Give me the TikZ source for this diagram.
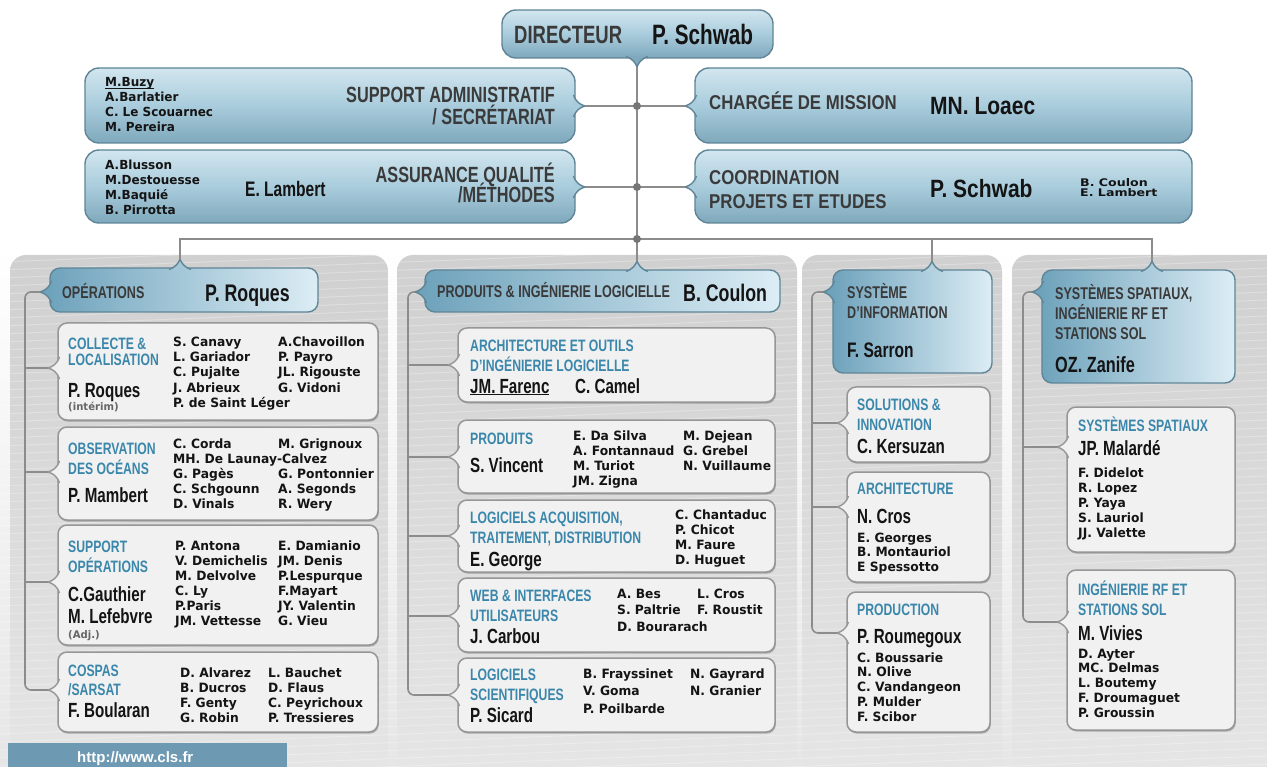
\documentclass[tikz,border=0pt]{standalone}
\usepackage{fontspec}
\newfontfamily\cf{Liberation Sans}[FakeStretch=0.74]
\newfontfamily\cfb{Liberation Sans}[FakeStretch=0.84]
\newfontfamily\nf{DejaVu Sans}[FakeStretch=0.96]
\newfontfamily\nfw{DejaVu Sans}[FakeStretch=1.2]
\newfontfamily\uf{Liberation Sans}
\usetikzlibrary{fit,shadows}
\newcommand\fs[1]{\fontsize{#1}{#1}\selectfont}
\newcommand\ul[1]{\setbox0\hbox{#1}\rlap{\rule[-1.6pt]{\wd0}{0.9pt}}\box0}
\definecolor{linegray}{HTML}{8C8C8C}
\definecolor{dotgray}{HTML}{767676}
\definecolor{boxfill}{HTML}{F1F1F1}
\definecolor{boxborder}{HTML}{969696}
\definecolor{blueborder}{HTML}{5F8596}
\definecolor{tbTop}{HTML}{D2E6EF}
\definecolor{tbMid}{HTML}{A9CCDC}
\definecolor{tbBot}{HTML}{7FA8BC}
\definecolor{hdL}{HTML}{6FA3BC}
\definecolor{hdR}{HTML}{DCEDF5}
\definecolor{hdgray}{HTML}{3A3A3A}
\definecolor{bluetext}{HTML}{3B87AB}
\definecolor{nametext}{HTML}{141414}
\definecolor{urlbg}{HTML}{6E99B2}
\definecolor{panelTop}{HTML}{D0D0D0}
\definecolor{panelBot}{HTML}{E6E6E6}
\tikzset{
  conn/.style={draw=linegray, line width=1.6pt},
  jdot/.style={circle, fill=dotgray, inner sep=0pt, minimum size=8pt},
  gbox/.style={draw=boxborder, fill=boxfill, line width=1.5pt, rounded corners=9pt, inner sep=0pt,
    drop shadow={shadow xshift=0.8pt, shadow yshift=-1.6pt, fill=black, opacity=0.25}},
  tbox/.style={draw=blueborder, line width=1.4pt, rounded corners=14pt, top color=tbTop, bottom color=tbBot, middle color=tbMid, inner sep=0pt},
  hbox/.style={draw=blueborder, line width=1.4pt, rounded corners=10pt, left color=hdL, right color=hdR, inner sep=0pt},
  hd/.style={font=\cf\bfseries\fs{17}, text=hdgray, inner sep=0pt, anchor=base west},
  bh/.style={font=\cf\bfseries\fs{16.5}, text=bluetext, inner sep=0pt, anchor=base west},
  pn/.style={font=\cf\bfseries\fs{20.5}, text=nametext, inner sep=0pt, anchor=base west},
  hn/.style={font=\cf\bfseries\fs{24}, text=nametext, inner sep=0pt, anchor=base west},
  nm/.style={font=\nf\bfseries\fs{12.8}, text=nametext, inner sep=0pt, anchor=base west},
  sm/.style={font=\nf\bfseries\fs{10.5}, text=black!60, inner sep=0pt, anchor=base west},
}
% pointers: #1 tip coordinate, #2 edge coordinate, #3 position along the edge, #4 fill, #5 draw
\newcommand\ptrL[5]{%
  \filldraw[fill=#4, draw=#5, line width=1.4pt] (#2+1.5,#3-11) .. controls (#2-1,#3-4) and (#2-5,#3-1.5) .. (#2-10,#3) .. controls (#2-5,#3+1.5) and (#2-1,#3+4) .. (#2+1.5,#3+11);
  \coordinate (#1) at (#2-10,#3);}
\newcommand\ptrR[5]{%
  \filldraw[fill=#4, draw=#5, line width=1.4pt] (#2-1.5,#3-11) .. controls (#2+1,#3-4) and (#2+5,#3-1.5) .. (#2+10,#3) .. controls (#2+5,#3+1.5) and (#2+1,#3+4) .. (#2-1.5,#3+11);
  \coordinate (#1) at (#2+10,#3);}
\newcommand\ptrT[5]{%
  \filldraw[fill=#4, draw=#5, line width=1.4pt] (#3-11,#2+1.5) .. controls (#3-4,#2-1) and (#3-1.5,#2-5) .. (#3,#2-9) .. controls (#3+1.5,#2-5) and (#3+4,#2-1) .. (#3+11,#2+1.5);
  \coordinate (#1) at (#3,#2-9);}
\newcommand\ptrB[5]{%
  \filldraw[fill=#4, draw=#5, line width=1.4pt] (#3-11,#2-1.5) .. controls (#3-4,#2+1) and (#3-1.5,#2+5) .. (#3,#2+9) .. controls (#3+1.5,#2+5) and (#3+4,#2+1) .. (#3+11,#2-1.5);
  \coordinate (#1) at (#3,#2+9);}
% gray box with left pointer: name, x1, y1, x2, y2, pointer y
\newcommand\gb[6]{%
  \node[gbox, fit={(#2,#3) (#4,#5)}] (#1) {};
  \ptrL{#1p}{#2}{#6}{boxfill}{boxborder}}
% stacked lines: prefix, x, first baseline, spacing, style, list
\newcommand\stk[6]{\foreach \tx [count=\i] in {#6}{\node[#5] (#1\i) at (#2,{#3+#4*(\i-1)}) {\tx};}}
\begin{document}
\begin{tikzpicture}[x=1pt,y=-1pt]
\useasboundingbox (0,0) rectangle (1267,767);
\fill[white] (0,0) rectangle (1267,767);
\shade[top color=white, bottom color=panelBot] (0,245) rectangle (1267,767);
% column panels
\shade[top color=panelTop, bottom color=panelBot, rounded corners=16pt] (10,790) -- (10,255) -- (388,255) -- (388,790) -- cycle;
\shade[top color=panelTop, bottom color=panelBot, rounded corners=16pt] (397,790) -- (397,255) -- (797,255) -- (797,790) -- cycle;
\shade[top color=panelTop, bottom color=panelBot, rounded corners=16pt] (802,790) -- (802,255) -- (1002,255) -- (1002,790) -- cycle;
\shade[top color=panelTop, bottom color=panelBot, rounded corners=16pt] (1012,790) -- (1012,255) -- (1300,255) -- (1300,790) -- cycle;
% faint streaks
\begin{scope}
\clip (0,250) rectangle (1267,767);
\foreach \s in {0,...,75} \draw[white, opacity=0.28, line width=1pt] (0,{262+8*\s}) -- (1267,{212+8*\s});
\end{scope}

% ---------- top ----------
\node[tbox, fit={(502,10) (773,58)}] (dir) {};
\ptrB{dirp}{58}{637}{tbBot}{blueborder}
\node[hd, font=\cf\bfseries\fs{25}] (dirT) at (514,44) {DIRECTEUR};
\node[hn, font=\cf\bfseries\fs{28}] (dirN) at (652,45) {P. Schwab};

\node[tbox, fit={(85,68) (575,143)}] (sup) {};
\ptrR{supp}{575}{106}{tbMid}{blueborder}
\node[tbox, fit={(85,150) (575,223)}] (aq) {};
\ptrR{aqp}{575}{187}{tbMid}{blueborder}
\node[tbox, fit={(695,68) (1192,143)}] (cm) {};
\ptrL{cmp}{695}{106}{tbMid}{blueborder}
\node[tbox, fit={(695,150) (1192,223)}] (cp) {};
\ptrL{cpp}{695}{187}{tbMid}{blueborder}

\stk{supL}{105}{87}{15}{nm, font=\nf\bfseries\fs{12.5}}{\ul{M.Buzy}, A.Barlatier, C. Le Scouarnec, M. Pereira}
\node[hd, font=\cf\bfseries\fs{22}, anchor=base east] (supT1) at (555,103) {SUPPORT ADMINISTRATIF};
\node[hd, font=\cf\bfseries\fs{22}, anchor=base east] (supT2) at (555,125) {/ SECRÉTARIAT};
\stk{aqL}{105}{170}{15}{nm, font=\nf\bfseries\fs{12.5}}{A.Blusson, M.Destouesse, M.Baquié, B. Pirrotta}
\node[pn, font=\cf\bfseries\fs{21}] (aqN) at (245,197) {E. Lambert};
\node[hd, font=\cf\bfseries\fs{22}, anchor=base east] (aqT1) at (555,183) {ASSURANCE QUALITÉ};
\node[hd, font=\cf\bfseries\fs{22}, anchor=base east] (aqT2) at (555,203) {/MÉTHODES};
\node[hd, font=\cfb\bfseries\fs{20}] (cmT) at (709,110) {CHARGÉE DE MISSION};
\node[hn, font=\cfb\bfseries\fs{25}] (cmN) at (930,115) {MN. Loaec};
\node[hd, font=\cfb\bfseries\fs{20}] (cpT1) at (709,185) {COORDINATION};
\node[hd, font=\cfb\bfseries\fs{20}] (cpT2) at (709,209) {PROJETS ET ETUDES};
\node[hn, font=\cfb\bfseries\fs{25}] (cpN) at (930,198) {P. Schwab};
\stk{cpL}{1080}{187}{9.5}{nm, font=\nfw\bfseries\fs{10.5}}{B. Coulon, E. Lambert}

% ---------- column 1 : operations ----------
\node[hbox, fit={(50,268) (318,312)}] (ops) {};
\ptrL{opsp}{50}{292}{hdL}{blueborder}
\ptrT{opst}{268}{180}{hdL!52!hdR}{blueborder}
\node[hd] (opsT) at (62,299) {OPÉRATIONS};
\node[hn] (opsN) at (205,302) {P. Roques};

\gb{coll}{58}{323}{378}{420}{368}
\stk{collH}{68}{350}{16}{bh}{COLLECTE \&, LOCALISATION}
\node[pn] (collN) at (68,397) {P. Roques};
\node[sm] (collI) at (68,410) {(intérim)};
\stk{collA}{173}{347}{15}{nm}{S. Canavy, L. Gariador, C. Pujalte, J. Abrieux, P. de Saint Léger}
\stk{collB}{278}{347}{15}{nm}{A.Chavoillon, P. Payro, JL. Rigouste, G. Vidoni}

\gb{obs}{58}{427}{378}{520}{472}
\stk{obsH}{68}{454}{20}{bh}{OBSERVATION, DES OCÉANS}
\node[pn] (obsN) at (68,502) {P. Mambert};
\stk{obsA}{173}{448}{15}{nm}{C. Corda, MH. De Launay-Calvez, G. Pagès, C. Schgounn, D. Vinals}
\node[nm] (obsB) at (278,448) {M. Grignoux};
\stk{obsC}{278}{478}{15}{nm}{G. Pontonnier, A. Segonds, R. Wery}

\gb{supb}{58}{525}{378}{645}{582}
\stk{supbH}{68}{552}{20}{bh}{SUPPORT, OPÉRATIONS}
\node[pn] (supbN1) at (68,601) {C.Gauthier};
\node[pn] (supbN2) at (68,623) {M. Lefebvre};
\node[sm] (supbAdj) at (68,638) {(Adj.)};
\stk{supbA}{175}{550}{15}{nm}{P. Antona, V. Demichelis, M. Delvolve, C. Ly, P.Paris, JM. Vettesse}
\stk{supbB}{278}{550}{15}{nm}{E. Damianio, JM. Denis, P.Lespurque, F.Mayart, JY. Valentin, G. Vieu}

\gb{cos}{58}{652}{378}{732}{690}
\stk{cosH}{68}{676}{19}{bh}{COSPAS, /SARSAT}
\node[pn] (cosN) at (68,717) {F. Boularan};
\stk{cosA}{180}{677}{15}{nm}{D. Alvarez, B. Ducros, F. Genty, G. Robin}
\stk{cosB}{268}{677}{15}{nm}{L. Bauchet, D. Flaus, C. Peyrichoux, P. Tressieres}

% ---------- column 2 : produits ----------
\node[hbox, fit={(425,270) (780,312)}] (prod) {};
\ptrL{prodp}{425}{292}{hdL}{blueborder}
\ptrT{prodt}{270}{637}{hdL!40!hdR}{blueborder}
\node[hd] (prodT) at (437,298) {PRODUITS \& INGÉNIERIE LOGICIELLE};
\node[hn] (prodN) at (683,302) {B. Coulon};

\gb{arc}{458}{328}{775}{402}{365}
\stk{arcH}{470}{352}{19}{bh}{ARCHITECTURE ET OUTILS, D’INGÉNIERIE LOGICIELLE}
\node[pn] (arcN1) at (470,393) {\ul{JM. Farenc}};
\node[pn] (arcN2) at (575,393) {C. Camel};

\gb{pdt}{458}{420}{775}{493}{457}
\node[bh] (pdtH) at (470,444) {PRODUITS};
\node[pn] (pdtN) at (470,472) {S. Vincent};
\stk{pdtA}{573}{440}{15}{nm}{E. Da Silva, A. Fontannaud, M. Turiot, JM. Zigna}
\stk{pdtB}{683}{440}{15}{nm}{M. Dejean, G. Grebel, N. Vuillaume}

\gb{laq}{458}{500}{775}{572}{536}
\stk{laqH}{470}{523}{20}{bh}{{LOGICIELS ACQUISITION,}, {TRAITEMENT, DISTRIBUTION}}
\node[pn] (laqN) at (470,566) {E. George};
\stk{laqA}{675}{519}{15}{nm}{C. Chantaduc, P. Chicot, M. Faure, D. Huguet}

\gb{web}{458}{578}{775}{652}{616}
\stk{webH}{470}{601}{20}{bh}{WEB \& INTERFACES, UTILISATEURS}
\node[pn] (webN) at (470,643) {J. Carbou};
\stk{webA}{617}{598}{16.5}{nm}{A. Bes, S. Paltrie, D. Bourarach}
\stk{webB}{697}{598}{16.5}{nm}{L. Cros, F. Roustit}

\gb{sci}{458}{658}{775}{732}{695}
\stk{sciH}{470}{680}{20}{bh}{LOGICIELS, SCIENTIFIQUES}
\node[pn] (sciN) at (470,722) {P. Sicard};
\stk{sciA}{583}{678}{17.5}{nm}{B. Frayssinet, V. Goma, P. Poilbarde}
\stk{sciB}{690}{678}{17.5}{nm}{N. Gayrard, N. Granier}

% ---------- column 3 : systeme d'information ----------
\node[hbox, fit={(833,270) (992,373)}] (si) {};
\ptrL{sip}{833}{292}{hdL}{blueborder}
\ptrT{sit}{270}{932}{hdL!38!hdR}{blueborder}
\stk{siH}{847}{299}{20}{hd}{SYSTÈME, D’INFORMATION}
\node[pn, font=\cf\bfseries\fs{21}] (siN) at (847,358) {F. Sarron};

\gb{sol}{847}{387}{990}{462}{423}
\stk{solH}{857}{410}{20}{bh}{SOLUTIONS \&, INNOVATION}
\node[pn] (solN) at (857,453) {C. Kersuzan};

\gb{ar2}{847}{472}{990}{582}{507}
\node[bh] (ar2H) at (857,494) {ARCHITECTURE};
\node[pn] (ar2N) at (857,523) {N. Cros};
\stk{ar2A}{857}{542}{14.5}{nm}{E. Georges, B. Montauriol, E Spessotto}

\gb{pro}{847}{592}{990}{732}{633}
\node[bh] (proH) at (857,615) {PRODUCTION};
\node[pn] (proN) at (857,643) {P. Roumegoux};
\stk{proA}{857}{662}{14.8}{nm}{C. Boussarie, N. Olive, C. Vandangeon, P. Mulder, F. Scibor}

% ---------- column 4 : systemes spatiaux ----------
\node[hbox, fit={(1042,270) (1235,383)}] (oz) {};
\ptrL{ozp}{1042}{292}{hdL}{blueborder}
\ptrT{ozt}{270}{1152}{hdL!43!hdR}{blueborder}
\stk{ozH}{1055}{300}{20}{hd}{{SYSTÈMES SPATIAUX,}, INGÉNIERIE RF ET, STATIONS SOL}
\node[pn, font=\cf\bfseries\fs{22}] (ozN) at (1055,373) {OZ. Zanife};

\gb{ss}{1067}{407}{1235}{552}{447}
\node[bh] (ssH) at (1078,431) {SYSTÈMES SPATIAUX};
\node[pn] (ssN) at (1078,455) {JP. Malardé};
\stk{ssA}{1078}{477}{15}{nm}{F. Didelot, R. Lopez, P. Yaya, S. Lauriol, JJ. Valette}

\gb{rf}{1067}{570}{1235}{730}{622}
\stk{rfH}{1078}{595}{20}{bh}{INGÉNIERIE RF ET, STATIONS SOL}
\node[pn] (rfN) at (1078,640) {M. Vivies};
\stk{rfA}{1078}{658}{14.8}{nm}{D. Ayter, MC. Delmas, L. Boutemy, F. Droumaguet, P. Groussin}

% ---------- connectors ----------
\coordinate (d1) at (637,106);
\coordinate (d2) at (637,187);
\coordinate (d3) at (637,239);
\draw[conn] (dirp) -- (d1) -- (d2) -- (d3) -- (prodt);
\draw[conn] (supp) -- (d1) -- (cmp);
\draw[conn] (aqp) -- (d2) -- (cpp);
\draw[conn] (opst) |- (d3) -| (ozt);
\draw[conn] (d3) -| (sit);

\coordinate (k1) at (25,292);
\draw[conn, rounded corners=6pt] (opsp) -- (k1) |- (cosp);
\foreach \b in {collp, obsp, supbp} \draw[conn] (\b -| k1) -- (\b);
\coordinate (k2) at (408,292);
\draw[conn, rounded corners=6pt] (prodp) -- (k2) |- (scip);
\foreach \b in {arcp, pdtp, laqp, webp} \draw[conn] (\b -| k2) -- (\b);
\coordinate (k3) at (812,292);
\draw[conn, rounded corners=6pt] (sip) -- (k3) |- (prop);
\foreach \b in {solp, ar2p} \draw[conn] (\b -| k3) -- (\b);
\coordinate (k4) at (1023,292);
\draw[conn, rounded corners=6pt] (ozp) -- (k4) |- (rfp);
\draw[conn] (ssp -| k4) -- (ssp);

\node[jdot] (dot1) at (d1) {};
\node[jdot] (dot2) at (d2) {};
\node[jdot] (dot3) at (d3) {};

% ---------- url banner ----------
\node[fill=urlbg, inner sep=0pt, fit={(8,743) (287,767)}] (urlbox) {};
\node[font=\uf\bfseries\fs{15}, text=white, inner sep=0pt, anchor=base west] (url) at (77,762) {http://www.cls.fr};
\end{tikzpicture}
\end{document}
